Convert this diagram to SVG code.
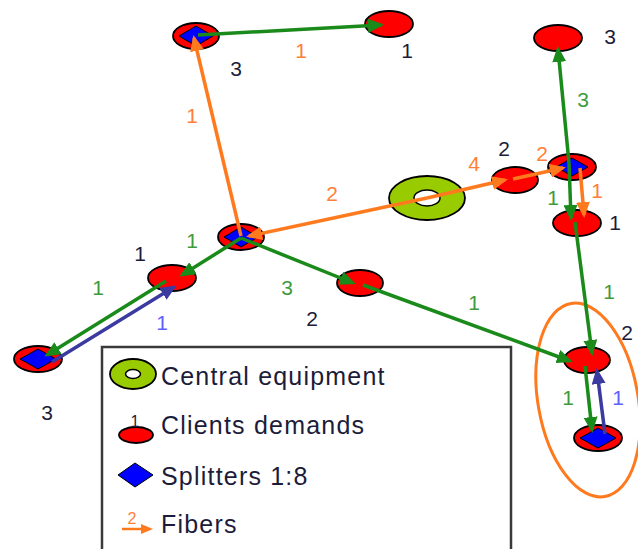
<svg xmlns="http://www.w3.org/2000/svg" width="638" height="549" viewBox="0 0 638 549">
<defs>
<style>
.client{fill:#ff0000;stroke:#000;stroke-width:1.8}
.split{fill:#0000ff;stroke:#000;stroke-width:1}
.central{fill:#99cc00;stroke:#000;stroke-width:1.8}
.hole{fill:#fff;stroke:#000;stroke-width:1.5}
.g{stroke:#1a8a1a;stroke-width:3.5;fill:none;marker-end:url(#ag)}
.o{stroke:#ff7a1e;stroke-width:3.5;fill:none;marker-end:url(#ao)}
.b{stroke:#3a3aa0;stroke-width:3.5;fill:none;marker-end:url(#ab)}
text{font-family:"Liberation Sans",Arial,sans-serif;font-size:21px;text-anchor:middle}
.tk{fill:#1c1c3a}
.tg{fill:#3f9a3a}
.to{fill:#ff7f3a}
.tb{fill:#6060ff}
.leg{font-size:25px;text-anchor:start;fill:#1c1c3a;letter-spacing:1.2px}
</style>
<marker id="ag" markerUnits="userSpaceOnUse" markerWidth="16" markerHeight="14" refX="13" refY="7" orient="auto"><path d="M0,0 L16,7 L0,14 Z" fill="#1a8a1a"/></marker>
<marker id="ao" markerUnits="userSpaceOnUse" markerWidth="16" markerHeight="14" refX="13" refY="7" orient="auto"><path d="M0,0 L16,7 L0,14 Z" fill="#ff7a1e"/></marker>
<marker id="ab" markerUnits="userSpaceOnUse" markerWidth="16" markerHeight="14" refX="13" refY="7" orient="auto"><path d="M0,0 L16,7 L0,14 Z" fill="#3a3aa0"/></marker>
</defs>
<rect width="638" height="549" fill="#fff"/>

<g id="legend">
<rect x="102" y="347" width="409" height="220" fill="#fff" stroke="#3a3a3a" stroke-width="2.5"/>
<ellipse class="central" cx="133" cy="374" rx="23" ry="15"/>
<ellipse class="hole" cx="133" cy="374" rx="7.5" ry="4.5"/>
<text class="leg" x="161" y="385">Central equipment</text>
<ellipse class="client" cx="136" cy="435" rx="17" ry="8"/>
<text class="tk" x="135" y="427" style="font-size:16px">1</text>
<text class="leg" x="161" y="434">Clients demands</text>
<polygon class="split" points="118,475 135,463 153,475 135,487"/>
<text class="leg" x="161" y="485">Splitters 1:8</text>
<text class="to" x="132" y="524" style="font-size:16px">2</text>
<line x1="122" y1="529" x2="142" y2="529" stroke="#ff7a1e" stroke-width="2.5"/>
<path d="M141,524 L153,529 L141,534 Z" fill="#ff7a1e"/>
<text class="leg" x="161" y="533">Fibers</text>
</g>

<g id="zone">
<ellipse cx="588" cy="400" rx="50" ry="98" transform="rotate(-10 588 400)" fill="none" stroke="#ff7a1e" stroke-width="3"/>
</g>

<g id="nA"><ellipse class="client" cx="196" cy="36" rx="23" ry="13"/><polygon class="split" points="179,36 196,26 213,36 196,46"/></g>
<g id="nB"><ellipse class="client" cx="389" cy="24" rx="24" ry="13"/></g>
<g id="nC"><ellipse class="client" cx="241" cy="237" rx="23" ry="13"/><polygon class="split" points="224,237 241,227 258,237 241,247"/></g>
<g id="nD"><ellipse class="client" cx="172" cy="278" rx="24" ry="13"/></g>
<g id="nE"><ellipse class="client" cx="38" cy="359" rx="24" ry="13"/><polygon class="split" points="20,359 38,349 56,359 38,369"/></g>
<g id="nF"><ellipse class="client" cx="360" cy="283" rx="23" ry="13"/></g>
<g id="nG"><ellipse class="client" cx="587" cy="360" rx="23" ry="13"/></g>
<g id="nH"><ellipse class="client" cx="598" cy="438" rx="24" ry="13"/><polygon class="split" points="580,438 598,428 616,438 598,448"/></g>
<g id="nI"><ellipse class="client" cx="577" cy="223" rx="24" ry="13"/></g>
<g id="nJ"><ellipse class="client" cx="572" cy="167" rx="24" ry="13"/><polygon class="split" points="556,167 572,158 588,167 572,176"/></g>
<g id="nK"><ellipse class="client" cx="558" cy="38" rx="24" ry="13"/></g>
<g id="nL"><ellipse class="client" cx="515" cy="180" rx="23" ry="13"/></g>
<g id="nM"><ellipse class="central" cx="427" cy="198" rx="38" ry="22"/><ellipse class="hole" cx="427" cy="198" rx="13" ry="8"/></g>

<g id="connectors">
<line class="g" x1="198" y1="35" x2="381" y2="25"/>
<line class="o" x1="241" y1="236" x2="194" y2="38"/>
<line class="o" x1="427" y1="198" x2="249" y2="236"/>
<line class="o" x1="427" y1="198" x2="505" y2="180"/>
<line class="o" x1="513" y1="179" x2="563" y2="168"/>
<line class="o" x1="580" y1="168" x2="584" y2="215"/>
<line class="g" x1="569" y1="163" x2="571" y2="218"/>
<line class="g" x1="569" y1="163" x2="558" y2="49"/>
<line class="g" x1="575" y1="222" x2="592" y2="353"/>
<line class="g" x1="241" y1="238" x2="182" y2="275"/>
<line class="g" x1="166" y1="281" x2="47" y2="355"/>
<line class="b" x1="52" y1="362" x2="174" y2="287"/>
<line class="g" x1="241" y1="238" x2="353" y2="283"/>
<line class="g" x1="363" y1="285" x2="570" y2="361"/>
<line class="g" x1="585" y1="366" x2="592" y2="430"/>
<line class="b" x1="605" y1="434" x2="597" y2="371"/>
</g>

<g id="labels">
<text class="tk" x="236" y="76">3</text>
<text class="to" x="301" y="58">1</text>
<text class="tk" x="407" y="58">1</text>
<text class="to" x="192" y="123">1</text>
<text class="tg" x="192" y="248">1</text>
<text class="tk" x="140" y="261">1</text>
<text class="to" x="332" y="201">2</text>
<text class="to" x="474" y="171">4</text>
<text class="tk" x="504" y="156">2</text>
<text class="to" x="542" y="161">2</text>
<text class="tg" x="553" y="205">1</text>
<text class="to" x="597" y="198">1</text>
<text class="tk" x="615" y="230">1</text>
<text class="tk" x="610" y="44">3</text>
<text class="tg" x="583" y="107">3</text>
<text class="tg" x="98" y="295">1</text>
<text class="tb" x="162" y="330">1</text>
<text class="tg" x="287" y="295">3</text>
<text class="tk" x="312" y="326">2</text>
<text class="tk" x="47" y="420">3</text>
<text class="tg" x="474" y="310">1</text>
<text class="tg" x="609" y="299">1</text>
<text class="tk" x="627" y="340">2</text>
<text class="tg" x="568" y="405">1</text>
<text class="tb" x="618" y="405">1</text>
</g>
</svg>
